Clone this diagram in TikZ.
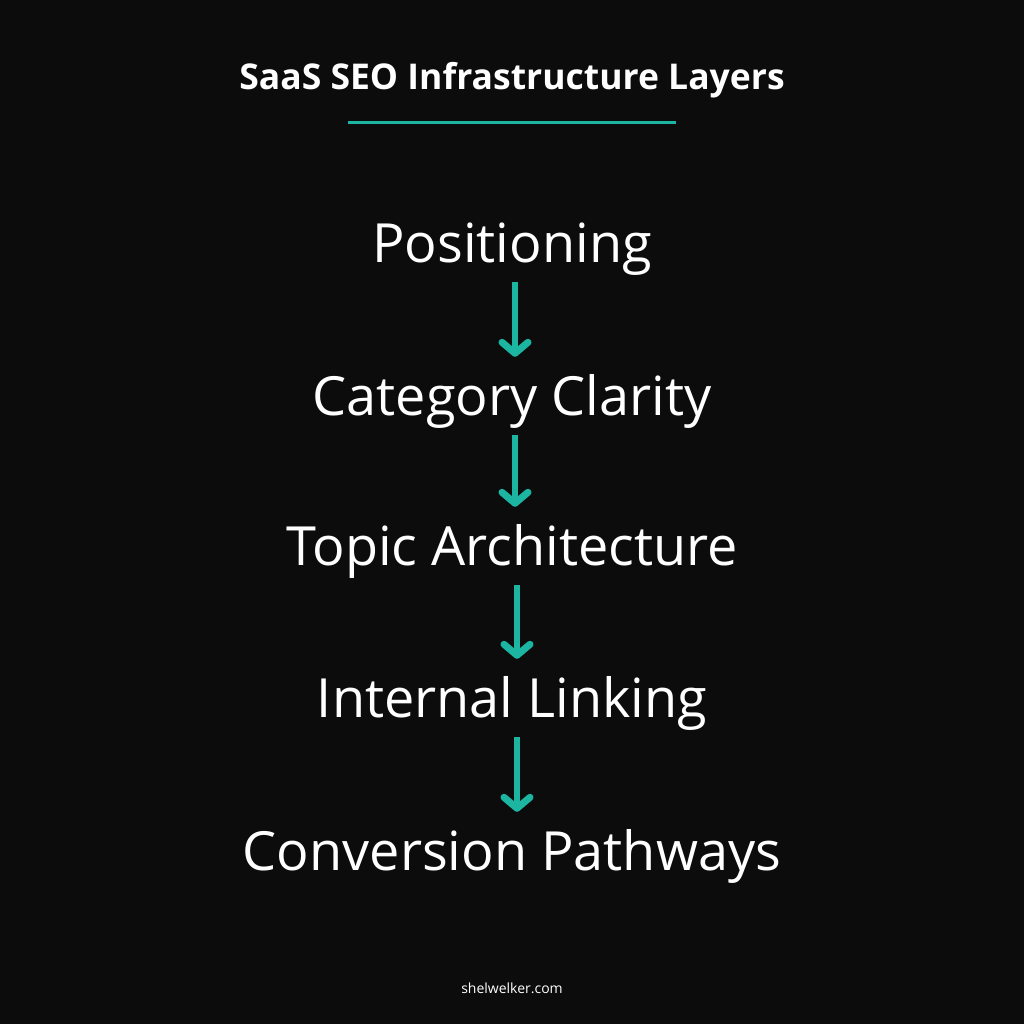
\documentclass[tikz,border=0pt]{standalone}
\usepackage{fontspec}
\setmainfont{Open Sans}
\usetikzlibrary{arrows.meta}
\definecolor{bg}{HTML}{0C0C0C}
\definecolor{teal}{HTML}{1BB5A2}
\tikzset{
  layer/.style={text=white,font=\fontsize{54}{58}\selectfont,inner sep=0pt,text height=38pt,text depth=0pt},
  flow/.style={draw=teal,line width=6pt,-{Straight Barb[length=11pt,width=26pt,line width=7pt,round]},shorten <=20pt,shorten >=20pt}
}
\begin{document}
\begin{tikzpicture}[x=1pt,y=-1pt]
\fill[bg] (0,0) rectangle (1024,1024);
\useasboundingbox (0,0) rectangle (1024,1024);
\node[text=white,font=\bfseries\fontsize{35.5}{40}\selectfont] (title) at (512,80) {SaaS SEO Infrastructure Layers};
\coordinate (ul) at (348,123); \coordinate (ur) at (676,123);
\draw[teal,line width=3pt] (ul) -- (ur);
\node[layer] (p) at (512,243) {Positioning};
\node[layer] (c) at (512,396) {Category Clarity};
\node[layer] (t) at (512,546) {Topic Architecture};
\node[layer] (i) at (512,698) {Internal Linking};
\node[layer] (v) at (512,851) {Conversion Pathways};
\draw[flow] (p.south -| 515,0) -- (c.north -| 515,0);
\draw[flow] (c.south -| 515,0) -- (t.north -| 515,0);
\draw[flow] (t.south -| 517,0) -- (i.north -| 517,0);
\draw[flow] (i.south -| 517,0) -- (v.north -| 517,0);
\node[text=white,font=\fontsize{14}{16}\selectfont] (foot) at (512,988) {shelwelker.com};
\end{tikzpicture}
\end{document}
